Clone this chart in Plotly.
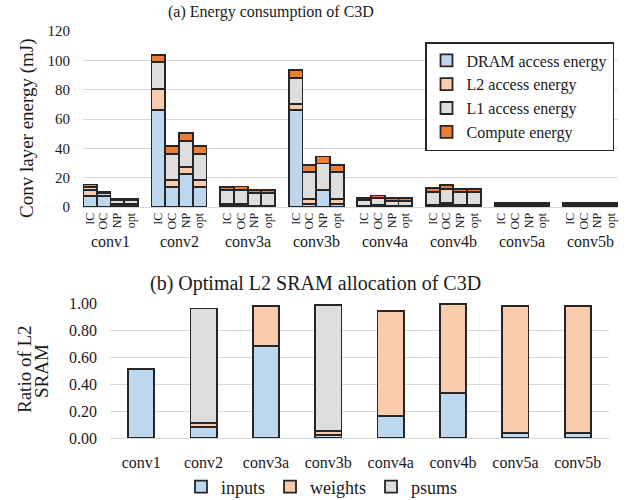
import plotly.graph_objects as go

# ---------------- data: (a) energy consumption ----------------
groups = ["conv1", "conv2", "conv3a", "conv3b", "conv4a", "conv4b", "conv5a", "conv5b"]
schemes = ["IC", "OC", "NP", "opt"]

dram_energy = [7.5, 7.3, 1.0, 1.0,
               66.4, 13.6, 22.3, 13.6,
               1.0, 0.5, 0.3, 0.3,
               65.9, 2.3, 11.4, 2.3,
               0.5, 0.5, 0.3, 0.3,
               0.7, 1.2, 0.7, 0.7,
               0.4, 0.4, 0.4, 0.4,
               0.4, 0.4, 0.4, 0.4]
l2_energy = [4.0, 0.6, 0.9, 0.9,
             13.8, 4.6, 5.0, 4.6,
             1.3, 1.8, 0.3, 0.3,
             4.5, 3.4, 0.5, 3.4,
             0.5, 0.7, 0.3, 0.3,
             0.5, 1.5, 0.5, 0.5,
             0.3, 0.3, 0.3, 0.3,
             0.3, 0.3, 0.3, 0.3]
l1_energy = [2.3, 1.4, 2.5, 2.5,
             18.4, 18.2, 17.7, 18.2,
             9.1, 9.4, 9.0, 9.0,
             17.8, 18.2, 17.7, 18.2,
             3.7, 4.8, 3.7, 3.7,
             9.0, 9.8, 9.0, 9.0,
             1.3, 1.3, 1.3, 1.3,
             1.3, 1.3, 1.3, 1.3]
compute_energy = [1.5, 0.9, 1.3, 1.3,
                  5.2, 5.0, 5.4, 5.0,
                  2.2, 2.3, 2.2, 2.2,
                  5.0, 4.5, 4.9, 4.5,
                  1.4, 1.8, 1.8, 1.8,
                  2.8, 2.3, 2.2, 2.2,
                  1.0, 1.0, 1.0, 1.0,
                  1.0, 1.0, 1.0, 1.0]

energy_ticks = [0, 20, 40, 60, 80, 100, 120]

# ---------------- data: (b) L2 SRAM allocation ----------------
inputs_ratio = [0.51, 0.08, 0.68, 0.025, 0.165, 0.335, 0.035, 0.035]
weights_ratio = [0.0, 0.03, 0.295, 0.027, 0.775, 0.66, 0.94, 0.94]
psums_ratio = [0.0, 0.85, 0.0, 0.935, 0.0, 0.0, 0.0, 0.0]
ratio_ticks = [0.0, 0.2, 0.4, 0.6, 0.8, 1.0]

# ---------------- styling ----------------
FONT = "Liberation Serif, Times New Roman, serif"
TXT = "#1a1a1a"
EDGE = "#262626"
C_DRAM = "#BDD7EE"
C_L2 = "#F8CBAD"
C_L1 = "#DEDEDE"
C_COMP = "#ED7D31"
GRID = "#D9D9D9"

W, H = 634, 500

def px_x(p):
    return p / W

def px_y(p):
    return 1 - p / H

# positions: 4 bars per group plus one empty slot between groups
xpos = [g * 5 + j for g in range(len(groups)) for j in range(len(schemes))]
xtext = [s for _ in groups for s in schemes]

fig = go.Figure()

for name, vals, col in [("DRAM access energy", dram_energy, C_DRAM),
                        ("L2 access energy", l2_energy, C_L2),
                        ("L1 access energy", l1_energy, C_L1),
                        ("Compute energy", compute_energy, C_COMP)]:
    fig.add_trace(go.Bar(
        x=xpos, y=vals, name=name, width=1,
        marker=dict(color=col, line=dict(color=EDGE, width=1.8)),
        xaxis="x", yaxis="y", legend="legend"))

for name, vals, col in [("inputs", inputs_ratio, C_DRAM),
                        ("weights", weights_ratio, C_L2),
                        ("psums", psums_ratio, C_L1)]:
    fig.add_trace(go.Bar(
        x=groups, y=vals, name=name, width=0.42,
        marker=dict(color=col, line=dict(color=EDGE, width=1.8)),
        xaxis="x2", yaxis="y2", legend="legend2"))

annotations = []
# group labels under the top chart
for g, name in enumerate(groups):
    annotations.append(dict(x=g * 5 + 1.5, xref="x", y=px_y(241), yref="paper",
                            text=name, showarrow=False, yanchor="middle",
                            font=dict(family=FONT, size=16, color=TXT)))
# titles
annotations.append(dict(x=px_x(271), y=px_y(12), xref="paper", yref="paper",
                        text="(a) Energy consumption of C3D", showarrow=False,
                        yanchor="middle", font=dict(family=FONT, size=16, color=TXT)))
annotations.append(dict(x=px_x(315), y=px_y(283), xref="paper", yref="paper",
                        text="(b) Optimal L2 SRAM allocation of C3D", showarrow=False,
                        yanchor="middle", font=dict(family=FONT, size=20, color=TXT)))
# y titles
annotations.append(dict(x=px_x(27), y=px_y(128), xref="paper", yref="paper",
                        text="Conv layer energy (mJ)", showarrow=False, textangle=-90,
                        xanchor="center", yanchor="middle",
                        font=dict(family=FONT, size=19, color=TXT)))
annotations.append(dict(x=px_x(24), y=px_y(369), xref="paper", yref="paper",
                        text="Ratio of L2", showarrow=False, textangle=-90,
                        xanchor="center", yanchor="middle",
                        font=dict(family=FONT, size=19, color=TXT)))
annotations.append(dict(x=px_x(41), y=px_y(371), xref="paper", yref="paper",
                        text="SRAM", showarrow=False, textangle=-90,
                        xanchor="center", yanchor="middle",
                        font=dict(family=FONT, size=19, color=TXT)))

fig.update_layout(
    width=W, height=H,
    margin=dict(l=0, r=0, t=0, b=0, autoexpand=False),
    paper_bgcolor="white", plot_bgcolor="white",
    barmode="stack",
    font=dict(family=FONT, color=TXT),
    showlegend=True,
    xaxis=dict(domain=[px_x(83), px_x(618)], anchor="y", automargin=False,
               range=[-0.5, 38.5], tickmode="array", tickvals=xpos, ticktext=xtext,
               tickangle=-90, tickfont=dict(family=FONT, size=12, color=TXT),
               showgrid=False, showline=True, linecolor=GRID, linewidth=1,
               ticks="", zeroline=False),
    yaxis=dict(domain=[px_y(207), px_y(31)], anchor="x", automargin=False,
               range=[0, 120], tickmode="array", tickvals=energy_ticks,
               tickfont=dict(family=FONT, size=15, color=TXT),
               showgrid=True, gridcolor=GRID, gridwidth=1, zeroline=False,
               ticks="", ticklabelstandoff=12),
    xaxis2=dict(domain=[px_x(110), px_x(609)], anchor="y2", automargin=False,
                tickfont=dict(family=FONT, size=16, color=TXT),
                showgrid=False, showline=True, linecolor=GRID, linewidth=1,
                ticks="", ticklabelstandoff=10),
    yaxis2=dict(domain=[px_y(438), px_y(303)], anchor="x2", automargin=False,
                range=[0, 1.0], tickmode="array", tickvals=ratio_ticks,
                tickformat=".2f",
                tickfont=dict(family=FONT, size=16, color=TXT),
                showgrid=True, gridcolor=GRID, gridwidth=1, zeroline=False,
                ticks="", ticklabelstandoff=12),
    legend=dict(x=px_x(425), y=px_y(42), xanchor="left", yanchor="top",
                bordercolor=EDGE, borderwidth=1.5, bgcolor="white",
                traceorder="normal", tracegroupgap=0,
                font=dict(family=FONT, size=16, color=TXT),
                itemwidth=30),
    legend2=dict(x=px_x(322), y=px_y(487), xanchor="center", yanchor="middle",
                 orientation="h", traceorder="normal", bgcolor="rgba(0,0,0,0)",
                 font=dict(family=FONT, size=18, color=TXT),
                 itemwidth=30),
    annotations=annotations,
)

fig.write_html("out.html",
               config={"displayModeBar": False},
               post_script="document.body.style.margin='0';")
